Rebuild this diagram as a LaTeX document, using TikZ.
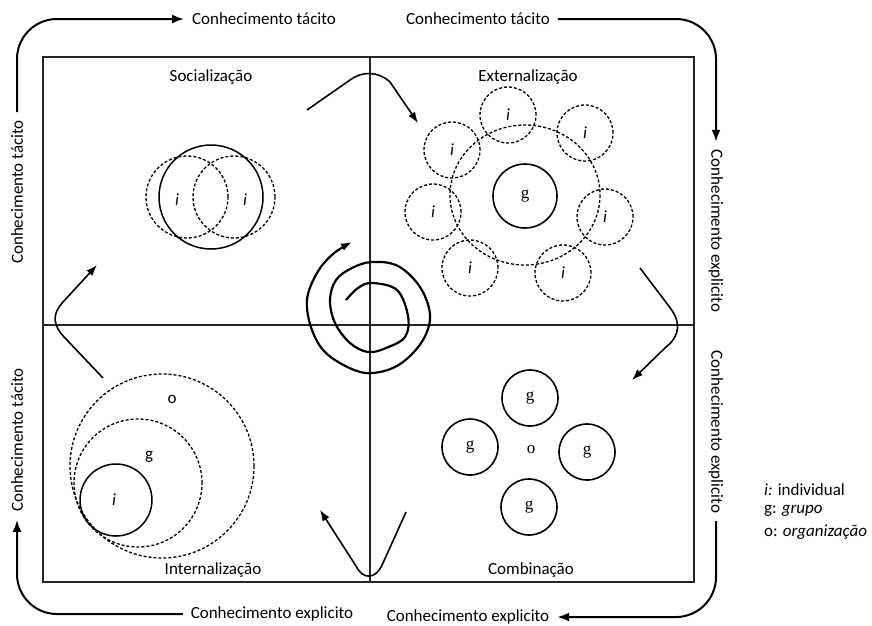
\documentclass[tikz,border=0pt]{standalone}
\usepackage{fontspec}
\setmainfont{Carlito}
\newfontfamily\serifg{Liberation Serif}
\usetikzlibrary{arrows.meta}
\begin{document}
\begin{tikzpicture}[x=1pt,y=-1pt,
  txt/.style={font=\fontsize{17}{19}\selectfont, inner sep=0pt},
  sidetxt/.style={txt, outer sep=8pt},
  frame/.style={line width=1.6pt, draw=black!85},
  outerarr/.style={line width=2pt, -{Latex[length=12pt,width=9pt]}, rounded corners=40pt},
  cyc/.style={line width=1.6pt, -{Latex[length=11pt,width=8pt]}},
  dsh/.style={dash pattern=on 3pt off 2pt},
  icirc/.style={circle, draw, dsh, line width=1.3pt, minimum size=56pt, inner sep=0pt, font=\fontsize{17}{19}\selectfont\itshape},
  gcirc/.style={circle, draw, line width=1.6pt, minimum size=56pt, inner sep=0pt, font=\fontsize{17}{19}\selectfont\serifg},
]
\useasboundingbox (0,0) rectangle (872,625);

% frame
\draw[frame] (43,57) rectangle (694,582);
\coordinate (ctop) at (370,57);
\coordinate (cbot) at (370,582);
\coordinate (cleft) at (43,325);
\coordinate (cright) at (694,325);
\draw[frame] (ctop) -- (cbot);
\draw[frame] (cleft) -- (cright);

% quadrant titles
\node[txt] (qs) at (211,77) {Socialização};
\node[txt] (qe) at (528,77) {Externalização};
\node[txt] (qi) at (213,570) {Internalização};
\node[txt] (qc) at (531,570) {Combinação};

% outer labels
\node[sidetxt] (t1) at (264,19) {Conhecimento tácito};
\node[sidetxt] (t2) at (478,19) {Conhecimento tácito};
\node[sidetxt, rotate=-90] (r1) at (716,231) {Conhecimento explicito};
\node[sidetxt, rotate=-90] (r2) at (716,432) {Conhecimento explicito};
\node[sidetxt] (b2) at (468,617) {Conhecimento explicito};
\node[sidetxt] (b1) at (272,614) {Conhecimento explicito};
\node[sidetxt, rotate=90] (l2) at (17,440) {Conhecimento tácito};
\node[sidetxt, rotate=90] (l1) at (17,192) {Conhecimento tácito};

% outer arrows
\draw[outerarr] (l1.east) |- (t1.west);
\draw[outerarr] (t2.east) -| (r1.west);
\draw[outerarr] (r2.east) |- (b2.east);
\draw[outerarr] (b1.west) -| (l2.west);

% Socialization
\node[circle, draw, line width=1.5pt, minimum size=104pt] (sbig) at (211,197) {};
\node[icirc, minimum size=82pt] (s1) at (187,197) {};
\node[icirc, minimum size=82pt] (s2) at (234,197) {};
\node[txt, font=\fontsize{17}{19}\selectfont\itshape] (si1) at (177,200) {i};
\node[txt, font=\fontsize{17}{19}\selectfont\itshape] (si2) at (245,200) {i};

% Externalization
\draw[dsh, line width=1.3pt] (525,195) ellipse [x radius=75, y radius=70];
\node[gcirc, minimum size=64pt] (eg) at (525,196) {g};
\node[icirc] (e1) at (508,115) {i};
\node[icirc] (e2) at (585,133) {i};
\node[icirc] (e3) at (452,150) {i};
\node[icirc] (e4) at (433,212) {i};
\node[icirc] (e5) at (605,217) {i};
\node[icirc] (e6) at (470,268) {i};
\node[icirc] (e7) at (563,273) {i};

% Internalization
\node[circle, draw, dsh, line width=1.3pt, minimum width=184pt, inner sep=0pt] (io) at (162,466) {};
\node[circle, draw, dsh, line width=1.3pt, minimum width=128pt, inner sep=0pt] (ig) at (138,483) {};
\node[circle, draw, line width=1.5pt, minimum size=72pt, inner sep=0pt] (ii) at (116,500) {};
\node[txt] (lo) at (172,399) {o};
\node[txt] (lg) at (149,457) {g};
\node[txt, font=\fontsize{17}{19}\selectfont\itshape] (li) at (114,500) {i};

% Combination
\node[gcirc] (c1) at (530,398) {g};
\node[gcirc] (c2) at (470,447) {g};
\node[gcirc] (c3) at (587,452) {g};
\node[gcirc] (c4) at (529,507) {g};
\node[txt, font=\fontsize{17}{19}\selectfont\serifg] (co) at (531,450) {o};

% cycle arrows
\coordinate (a1s) at (307,110);
\coordinate (a1e) at (418,123);
\draw[cyc] (a1s) -- (350,80) .. controls (362,71) and (378,71) .. (390,82) -- (a1e);
\coordinate (a2s) at (640,268);
\coordinate (a2e) at (632,380);
\draw[cyc] (a2s) -- (668,305) .. controls (682,322) and (680,336) .. (666,347) -- (a2e);
\coordinate (a3s) at (406,512);
\coordinate (a3e) at (320,510);
\draw[cyc] (a3s) -- (383,563) .. controls (376,580) and (363,580) .. (356,566) -- (a3e);
\coordinate (a4s) at (103,378);
\coordinate (a4e) at (97,265);
\draw[cyc] (a4s) -- (66,339) .. controls (52,325) and (52,314) .. (63,302) -- (a4e);

% spiral
\draw[line width=2.2pt, -{Latex[length=11pt,width=8pt]}] plot[smooth, tension=0.6] coordinates {
 (346,300) (358,288) (372,283) (397,290) (408,316) (405,337) (386,348) (368,352) (350,343)
 (335,323) (330,300) (336,280) (352,268) (372,262) (398,266) (420,287) (430,315) (423,340)
 (403,362) (380,372) (357,371) (327,354) (312,330) (307,300) (317,273) (333,254) (352,242)};

% legend
\node[txt, anchor=west] (lg1) at (764,490) {\textit{i:} individual};
\node[txt, anchor=west] (lg2) at (764,511) {g: \textit{grupo}};
\node[txt, anchor=west] (lg3) at (764,532) {o: \textit{organização}};
\end{tikzpicture}
\end{document}
